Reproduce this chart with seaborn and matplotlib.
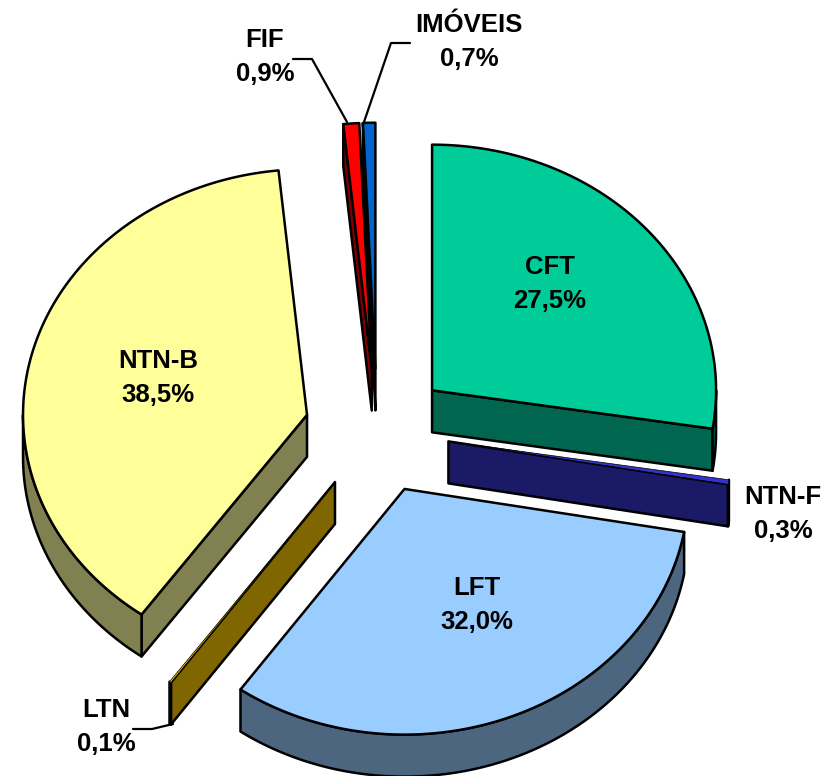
import numpy as np
import matplotlib
matplotlib.use('Agg')
import matplotlib.pyplot as plt
from matplotlib.patches import Polygon
import seaborn as sns

# Dados da carteira
categorias = ['CFT', 'NTN-F', 'LFT', 'LTN', 'NTN-B', 'FIF', 'IMÓVEIS']
valores = [27.5, 0.3, 32.0, 0.1, 38.5, 0.9, 0.7]
rotulos = ['27,5%', '0,3%', '32,0%', '0,1%', '38,5%', '0,9%', '0,7%']
cores_topo = ['#00CC99', '#3333CC', '#99CCFF', '#FFCC00', '#FFFF99', '#FF0000', '#0066CC']
cores_lado = ['#006650', '#1A1A66', '#4D6680', '#806600', '#808050', '#800000', '#003366']

# Geometria do pie 3D (em pixels da figura)
LARGURA, ALTURA = 827, 776
CX, CY = 377, 431
RAIO = 284
INCLINACAO = 0.865
EXPLODE = 0.255
PROFUNDIDADE = 42 / RAIO

# Centro dos textos em pixels
pos_rotulos = {
    'CFT': (550, 284), 'NTN-F': (783, 514), 'LFT': (477, 605), 'LTN': (106, 727),
    'NTN-B': (158, 378), 'FIF': (265, 57), 'IMÓVEIS': (469, 42),
}
# Linhas de chamada em pixels
chamadas = [
    [(293, 59), (312, 59), (347, 122)],
    [(410, 43), (391, 43), (364, 122)],
    [(133, 729), (152, 729), (173, 724)],
]

sns.set_theme(style='white')
plt.rcParams['font.family'] = ['Liberation Sans', 'DejaVu Sans']


def px(x, y):
    return (x - CX) / RAIO, (CY - y) / RAIO


def elipse(t):
    t = np.radians(t)
    return np.column_stack([np.sin(t), INCLINACAO * np.cos(t)])


def face(ax, pontos, cor, z, lw=1.8):
    ax.add_patch(Polygon(pontos, closed=True, facecolor=cor, edgecolor='black',
                         linewidth=lw, joinstyle='round', zorder=z))


def desenha_fatia(ax, ini, fim, topo, lado, z, lw_topo):
    meio = (ini + fim) / 2
    apice = EXPLODE * elipse(np.array([meio]))
    arco = apice + elipse(np.linspace(ini, fim, 120))
    desce = np.array([0, -PROFUNDIDADE])

    # faces radiais visiveis
    if np.cos(np.radians(ini - 90)) < -1e-6:
        face(ax, np.vstack([apice, arco[0], arco[0] + desce, apice + desce]), lado, z)
    if np.cos(np.radians(fim + 90)) < -1e-6:
        face(ax, np.vstack([apice, arco[-1], arco[-1] + desce, apice + desce]), lado, z)

    # borda externa voltada para frente
    a, b = max(ini, 90), min(fim, 270)
    if b > a:
        borda = apice + elipse(np.linspace(a, b, 120))
        face(ax, np.vstack([borda, (borda + desce)[::-1]]), lado, z + 0.1)

    face(ax, np.vstack([apice, arco]), topo, z + 0.2, lw_topo)


fig, ax = plt.subplots(figsize=(LARGURA / 100, ALTURA / 100), dpi=100)
ax.set_position([0, 0, 1, 1])
ax.set_xlim(px(0, 0)[0], px(LARGURA, 0)[0])
ax.set_ylim(px(0, ALTURA)[1], px(0, 0)[1])
ax.axis('off')
sns.despine(ax=ax, left=True, bottom=True)

# Angulos a partir do topo, sentido horario
limites = np.concatenate([[0], np.cumsum(valores)]) / np.sum(valores) * 360
ordem_desenho = ['FIF', 'IMÓVEIS', 'NTN-B', 'CFT', 'LTN', 'NTN-F', 'LFT']
for z, nome in enumerate(ordem_desenho):
    i = categorias.index(nome)
    # fatias muito finas: contorno fino para a cor do topo aparecer
    lw_topo = 0.5 if valores[i] < 0.5 else 1.8
    desenha_fatia(ax, limites[i], limites[i + 1], cores_topo[i], cores_lado[i], z + 1, lw_topo)

for linha in chamadas:
    xs, ys = zip(*[px(*p) for p in linha])
    ax.plot(xs, ys, color='black', linewidth=1.6, zorder=20)

for nome, rotulo in zip(categorias, rotulos):
    x, y = px(*pos_rotulos[nome])
    ax.text(x, y, f'{nome}\n{rotulo}', ha='center', va='center', fontsize=18.5,
            fontweight='bold', color='black', linespacing=1.5, zorder=30)

fig.savefig('out.png', dpi=100)
